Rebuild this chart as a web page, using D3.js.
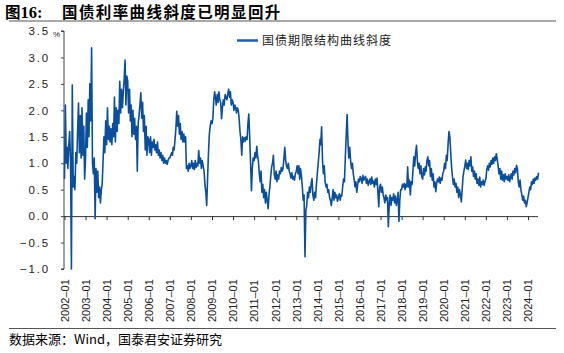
<!DOCTYPE html>
<html>
<head>
<meta charset="utf-8">
<script src="https://cdn.jsdelivr.net/npm/d3@7"></script>
<style>
	body { margin: 0; background: #fff; }
	svg { display: block; }
</style>
</head>
<body>
<div id="chart"></div>
<script>
// 国债期限结构曲线斜度 (%), semi-monthly readings, 24 per year
var v2002 = [0.70, 2.10, 1.00, 1.30, 0.90, 1.35, 1.60, 1.00, -1.00, 2.48, 0.55, 0.75, 0.50, 1.20, 1.00, 1.60, 2.14, 1.20, 1.90, 1.10, 2.05, 1.15, 1.70, 0.70];
var v2003 = [1.10, 1.95, 1.30, 2.20, 1.50, 2.50, 1.80, 3.18, 1.00, 0.80, 1.10, -0.05, 0.90, 0.45, 0.85, 0.35, 0.55, 0.25, 0.50, 0.60, 1.05, 1.50, 1.20, 1.80];
var v2004 = [1.35, 2.05, 1.45, 1.70, 1.40, 1.65, 1.35, 1.75, 1.50, 2.25, 1.40, 2.05, 1.60, 2.00, 1.75, 2.55, 1.95, 2.40, 2.05, 2.35, 2.60, 2.95, 2.10, 2.65];
var v2005 = [2.55, 1.95, 2.40, 1.80, 2.10, 1.50, 2.00, 1.55, 1.85, 1.45, 1.70, 0.85, 1.75, 1.90, 2.10, 2.33, 1.85, 2.15, 1.60, 1.90, 1.25, 1.70, 1.15, 1.50];
var v2006 = [1.45, 1.20, 1.50, 1.15, 1.40, 1.30, 1.45, 1.25, 1.35, 1.20, 1.40, 1.15, 1.25, 1.10, 1.20, 1.05, 1.15, 1.00, 1.10, 1.00, 1.05, 0.98, 1.05, 1.10];
var v2007 = [1.10, 1.15, 1.20, 1.15, 1.30, 1.25, 1.45, 1.65, 1.98, 1.70, 1.90, 1.55, 1.75, 1.45, 1.60, 1.40, 1.55, 1.40, 1.50, 0.90, 0.95, 0.85, 1.00, 0.90];
var v2008 = [0.95, 1.05, 0.90, 1.00, 0.88, 1.05, 0.92, 1.00, 0.95, 1.24, 1.00, 1.10, 0.90, 1.05, 0.95, 0.85, 0.60, 0.45, 0.20, 0.70, 1.20, 1.55, 1.70, 1.80];
var v2009 = [1.75, 1.85, 2.20, 2.35, 2.25, 2.10, 2.30, 2.15, 2.35, 2.20, 2.15, 1.84, 2.05, 2.20, 2.10, 2.30, 2.25, 2.20, 2.30, 2.40, 2.25, 2.35, 2.10, 2.20];
var v2010 = [2.15, 2.00, 2.10, 2.05, 1.95, 2.05, 2.00, 1.85, 1.60, 1.45, 1.15, 1.50, 1.40, 1.48, 1.42, 1.50, 1.45, 1.75, 1.93, 1.50, 1.00, 0.48, 0.90, 1.10];
var v2011 = [1.05, 1.20, 1.10, 1.32, 1.15, 1.05, 0.80, 0.65, 0.85, 0.45, 0.60, 0.35, 0.50, 0.25, 0.45, 0.30, 0.14, 0.40, 0.55, 0.75, 0.93, 1.00, 1.15, 0.80];
var v2012 = [0.70, 0.85, 0.65, 0.78, 0.70, 0.85, 0.80, 0.92, 0.85, 0.90, 1.10, 1.30, 1.05, 0.95, 0.90, 1.00, 0.85, 0.80, 0.72, 0.82, 0.70, 0.75, 0.68, 0.80];
var v2013 = [0.85, 0.95, 0.80, 0.95, 0.70, 0.90, 0.75, 0.55, 0.30, 0.40, -0.77, 0.10, 0.20, 0.45, 0.35, 0.55, 0.45, 0.62, 0.71, 0.40, 0.30, 0.45, 0.35, 0.60];
var v2014 = [0.80, 1.00, 1.20, 1.45, 1.35, 1.69, 1.05, 0.80, 0.95, 0.65, 0.55, 0.60, 0.45, 0.50, 0.35, 0.30, 0.20, 0.35, 0.50, 0.30, 0.45, 0.35, 0.40, 0.28];
var v2015 = [0.35, 0.42, 0.30, 0.40, 0.38, 0.55, 0.70, 0.65, 1.10, 1.50, 1.92, 1.40, 1.10, 1.30, 1.05, 0.90, 1.00, 0.80, 0.70, 0.55, 0.65, 0.45, 0.60, 0.70];
var v2016 = [0.65, 0.75, 0.70, 0.62, 0.77, 0.68, 0.72, 0.75, 0.62, 0.70, 0.58, 0.65, 0.70, 0.60, 0.74, 0.62, 0.66, 0.55, 0.70, 0.60, 0.72, 0.45, 0.18, 0.55];
var v2017 = [0.60, 0.45, 0.55, 0.40, 0.35, 0.25, 0.40, 0.30, 0.35, -0.20, 0.25, 0.40, 0.20, 0.35, 0.30, 0.42, 0.25, 0.38, 0.20, 0.30, 0.45, -0.10, 0.30, 0.50];
var v2018 = [0.50, 0.60, 0.55, 0.62, 0.50, 0.60, 0.55, 0.93, 0.55, 0.68, 0.40, 0.65, 0.60, 0.85, 1.12, 0.95, 1.20, 1.34, 1.05, 0.90, 1.00, 0.80, 0.95, 0.75];
var v2019 = [0.70, 0.90, 0.78, 0.93, 0.85, 1.05, 1.12, 0.95, 1.05, 0.75, 0.90, 0.68, 0.80, 0.55, 0.65, 0.46, 0.62, 0.70, 0.65, 0.74, 0.62, 0.72, 0.68, 0.80];
var v2020 = [0.85, 1.00, 0.90, 1.15, 1.05, 1.35, 1.60, 1.50, 1.20, 0.93, 0.74, 0.60, 0.70, 0.55, 0.62, 0.45, 0.55, 0.35, 0.50, 0.40, 0.27, 0.50, 0.75, 0.85];
var v2021 = [0.95, 1.06, 0.90, 1.00, 0.88, 1.05, 0.95, 1.12, 0.85, 0.93, 0.75, 0.85, 0.70, 0.80, 0.62, 0.70, 0.58, 0.74, 0.55, 0.65, 0.60, 0.68, 0.58, 0.65];
var v2022 = [0.70, 0.88, 0.95, 0.87, 1.00, 0.93, 1.05, 0.98, 1.10, 1.00, 1.12, 1.05, 1.18, 1.08, 0.95, 0.80, 0.90, 0.70, 0.85, 0.68, 0.78, 0.65, 0.80, 0.70];
var v2023 = [0.75, 0.68, 0.78, 0.65, 0.72, 0.80, 0.70, 0.85, 0.78, 0.90, 0.82, 0.96, 0.90, 0.65, 0.55, 0.68, 0.49, 0.40, 0.30, 0.38, 0.25, 0.30, 0.18, 0.25];
var v2024 = [0.35, 0.45, 0.55, 0.50, 0.65, 0.60, 0.70, 0.62, 0.72, 0.68, 0.75, 0.70, 0.82];

var years = [2002, 2003, 2004, 2005, 2006, 2007, 2008, 2009, 2010, 2011, 2012, 2013,
	2014, 2015, 2016, 2017, 2018, 2019, 2020, 2021, 2022, 2023, 2024];
var yearValues = [v2002, v2003, v2004, v2005, v2006, v2007, v2008, v2009, v2010, v2011, v2012, v2013,
	v2014, v2015, v2016, v2017, v2018, v2019, v2020, v2021, v2022, v2023, v2024];

var yTicks = [-1.0, -0.5, 0.0, 0.5, 1.0, 1.5, 2.0, 2.5, 3.0, 3.5];

var titleText = '国债利率曲线斜度已明显回升';
var seriesName = '国债期限结构曲线斜度';
var sourceText = '数据来源：Wind，国泰君安证券研究';

var W = 564, H = 353;
var blue = '#0b4f9c';
var cjk = '"Noto Sans CJK SC", sans-serif';
var num = '"Liberation Sans", Arial, sans-serif';

// build date/value rows from the per-year arrays
function buildData() {
	var rows = [];
	for (var i = 0; i < years.length; i++) {
		var vals = yearValues[i];
		for (var j = 0; j < vals.length; j++) {
			rows.push({
				date: new Date(years[i], Math.floor(j / 2), j % 2 ? 16 : 1),
				value: vals[j]
			});
		}
	}
	return rows;
}

function fmtTick(d) {
	return (d < 0 ? '\u2212' : '') + Math.abs(d).toFixed(1);
}

function drawChart() {
	var data = buildData();

	var svg = d3.select('#chart')
		.append('svg')
		.attr('width', W)
		.attr('height', H);

	// title + rules
	var title = svg.append('text')
		.attr('x', 5)
		.attr('y', 18)
		.attr('font-weight', 'bold')
		.attr('font-size', '15.5px')
		.attr('fill', '#000');
	title.append('tspan').style('font-family', cjk).text('图');
	title.append('tspan').style('font-family', '"Liberation Serif", serif').attr('font-size', '16.5px').text('16:');
	title.append('tspan')
		.attr('x', 62)
		.style('font-family', cjk)
		.attr('letter-spacing', '1.4px')
		.text(titleText);

	svg.append('line')
		.attr('x1', 9).attr('x2', 556)
		.attr('y1', 21).attr('y2', 21)
		.attr('stroke', '#8c8c8c')
		.attr('stroke-width', 1.5);

	svg.append('line')
		.attr('x1', 9).attr('x2', 556)
		.attr('y1', 328.5).attr('y2', 328.5)
		.attr('stroke', '#555')
		.attr('stroke-width', 1);

	svg.append('text')
		.attr('x', 9)
		.attr('y', 344)
		.attr('font-size', '13px')
		.style('font-family', cjk)
		.attr('fill', '#000')
		.text(sourceText);

	// scales
	var x = d3.scaleTime()
		.domain([new Date(2002, 0, 1), new Date(2024, 0, 1)])
		.range([64.5, 528]);
	var y = d3.scaleLinear()
		.domain([-1, 3.5])
		.range([269, 31]);

	// y axis
	var yAxis = d3.axisLeft(y)
		.tickValues(yTicks)
		.tickSize(3)
		.tickFormat(fmtTick);
	var gy = svg.append('g')
		.attr('transform', 'translate(64,0)')
		.call(yAxis);
	gy.select('.domain').attr('stroke', '#444').attr('d', 'M-3,' + y(3.5) + 'H0V' + y(-1) + 'H-3');
	gy.selectAll('.tick line').attr('stroke', '#444');
	gy.selectAll('.tick text')
		.attr('x', -14)
		.attr('font-family', num)
		.attr('font-size', '11.5px')
		.attr('letter-spacing', '1.8px')
		.attr('fill', '#222');

	svg.append('text')
		.attr('x', 53)
		.attr('y', 37)
		.attr('font-family', num)
		.attr('font-size', '8px')
		.attr('fill', '#222')
		.text('%');

	// x axis at zero
	var xAxis = d3.axisBottom(x)
		.ticks(d3.timeYear.every(1))
		.tickSize(4)
		.tickFormat(d3.timeFormat('%Y\u201301'));
	var gx = svg.append('g')
		.attr('transform', 'translate(0,' + y(0) + ')')
		.call(xAxis);
	gx.select('.domain').attr('stroke', '#333').attr('d', 'M64,0.5H538');
	gx.selectAll('.tick line').attr('stroke', '#333');
	gx.selectAll('.tick text')
		.attr('font-family', num)
		.attr('font-size', '11px')
		.attr('fill', '#222')
		.attr('text-anchor', 'start')
		.attr('transform', 'translate(0,' + (322 - y(0)) + ') rotate(-90)')
		.attr('x', 0)
		.attr('y', 0)
		.attr('dy', '0.35em');

	// series line
	var line = d3.line()
		.x(d => x(d.date))
		.y(d => y(d.value));

	svg.append('path')
		.datum(data)
		.attr('fill', 'none')
		.attr('stroke', blue)
		.attr('stroke-width', 1.6)
		.attr('stroke-linejoin', 'round')
		.attr('d', line);

	// legend
	svg.append('line')
		.attr('x1', 237).attr('x2', 258)
		.attr('y1', 40.5).attr('y2', 40.5)
		.attr('stroke', '#1f5ea6')
		.attr('stroke-width', 2.5);
	svg.append('text')
		.attr('x', 262)
		.attr('y', 45)
		.attr('font-size', '12px')
		.attr('letter-spacing', '1px')
		.style('font-family', cjk)
		.attr('fill', '#222')
		.text(seriesName);
}

window.onload = drawChart;
</script>
</body>
</html>
